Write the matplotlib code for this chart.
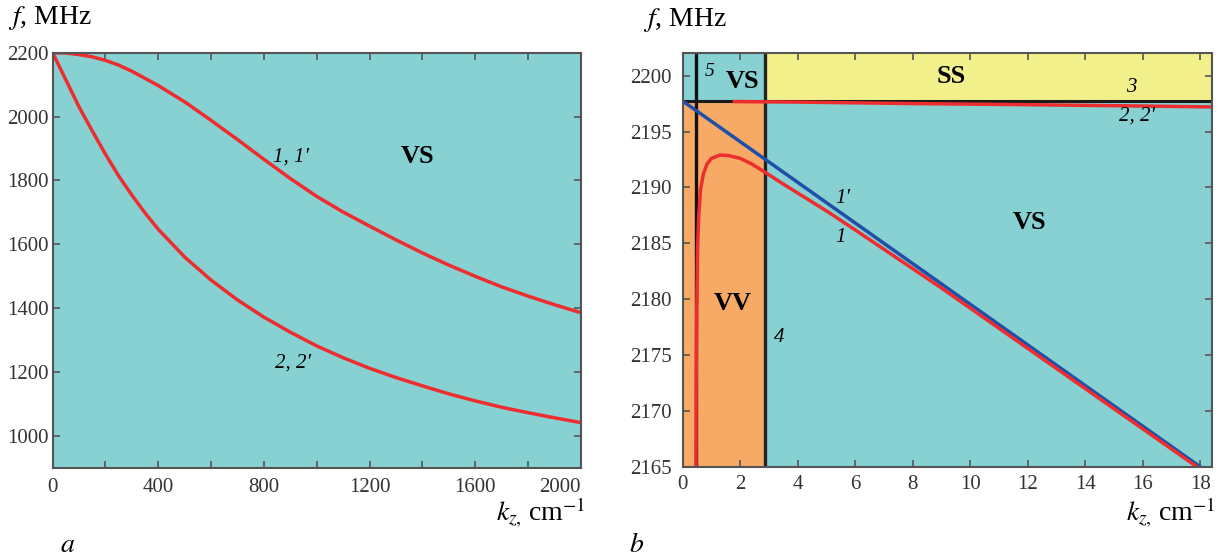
import matplotlib
matplotlib.use('Agg')
import matplotlib.pyplot as plt
from matplotlib.ticker import MultipleLocator

plt.rcParams['font.family'] = ['Liberation Serif', 'DejaVu Serif']
plt.rcParams['mathtext.fontset'] = 'stix'

# ---- panel a data (kz in cm^-1, f in MHz) ----
k_a1 = [0, 50, 100, 150, 200, 250, 300, 400, 500, 600, 700, 800, 900, 1000,
        1100, 1200, 1300, 1400, 1500, 1600, 1700, 1800, 1900, 2000]
f_a1 = [2200, 2199, 2194, 2187, 2176, 2161, 2142, 2097, 2046, 1988, 1928, 1866,
        1806, 1750, 1701, 1657, 1614, 1573, 1535, 1500, 1467, 1438, 1411, 1386]

k_a2 = [0, 25, 50, 100, 150, 200, 250, 300, 350, 400, 500, 600, 700, 800, 900,
        1000, 1100, 1200, 1300, 1400, 1500, 1600, 1700, 1800, 1900, 2000]
f_a2 = [2200, 2157, 2115, 2030, 1955, 1882, 1814, 1754, 1698, 1647, 1560, 1488,
        1426, 1372, 1325, 1282, 1245, 1212, 1183, 1157, 1132, 1110, 1090, 1073,
        1057, 1042]

xticks_a = [0, 400, 800, 1200, 1600, 2000]
yticks_a = [1000, 1200, 1400, 1600, 1800, 2000, 2200]

# ---- panel b data ----
k_b1 = [0.46, 0.47, 0.49, 0.52, 0.56, 0.62, 0.72, 0.85, 1.0, 1.3, 1.6, 2.0,
        2.4, 2.9, 3.5, 4.0, 5.0, 6.0, 7.5, 9.0, 11.0, 13.0, 15.0, 17.0, 18.0]
f_b1 = [2162, 2172, 2179, 2184.5, 2187.5, 2189.8, 2191.2, 2192.1, 2192.6,
        2192.9, 2192.85, 2192.6, 2192.1, 2191.3, 2190.3, 2189.5, 2187.9,
        2186.2, 2183.6, 2181.0, 2177.4, 2173.8, 2170.2, 2166.6, 2164.8]

k_b1p = [0, 18]            # curve 1' (blue)
f_b1p = [2197.73, 2165]

k_b2 = [1.8, 4, 8, 12, 16, 18.4]
f_b2 = [2197.68, 2197.63, 2197.5, 2197.4, 2197.28, 2197.2]

k_line5 = 0.45
k_line4 = 2.87
f_line3 = 2197.73

teal = '#87D1D3'
orange = '#F7A966'
yellow = '#F2F08A'
red = '#EE2D2E'
blue = '#1F4FA8'
spine_c = '#555555'

fig = plt.figure(figsize=(12.19, 5.6), dpi=100)
ax1 = fig.add_axes([0.0432, 0.1643, 0.4334, 0.7416])
ax2 = fig.add_axes([0.5600, 0.1661, 0.4342, 0.7388])

for ax in (ax1, ax2):
    for s in ax.spines.values():
        s.set_color(spine_c)
        s.set_linewidth(1.5)
    ax.tick_params(which='both', direction='in', top=True, right=True,
                   colors=spine_c, labelcolor='#333333', labelsize=15, width=1.2)
    ax.tick_params(which='both', length=5)
    ax.set_facecolor(teal)

# ---- panel a ----
ax1.plot(k_a1, f_a1, color=red, lw=2.5)
ax1.plot(k_a2, f_a2, color=red, lw=2.5)
ax1.set_xlim(0, 2000)
ax1.set_ylim(900, 2200)
ax1.set_xticks(xticks_a, labels=[str(v) for v in xticks_a])
ax1.xaxis.set_minor_locator(MultipleLocator(200))
ax1.set_yticks(yticks_a)
ax1.tick_params(axis='x', pad=7)
ax1.tick_params(axis='y', pad=3)
ax1.xaxis.get_major_ticks()[-1].label1.set_horizontalalignment('right')

lab = dict(fontsize=15, fontstyle='italic', ha='center', va='center')
reg = dict(fontsize=19, fontweight='bold', ha='center', va='center')

ax1.text(1382, 1874, 'VS', **reg)
ax1.text(902, 1874, '1, 1\u2032', **lab)
ax1.text(910, 1227, '2, 2\u2032', **lab)

# ---- panel b ----
ax2.set_xlim(0, 18.4)
ax2.set_ylim(2165, 2202)
ax2.axvspan(0, k_line4, ymin=0, ymax=(f_line3 - 2165) / (2202 - 2165), color=orange, lw=0)
ax2.axvspan(k_line4, 18.4, ymin=(f_line3 - 2165) / (2202 - 2165), ymax=1, color=yellow, lw=0)
ax2.axhline(f_line3, color='#1a1a1a', lw=2.2)
ax2.axvline(k_line5, color='#111111', lw=2.4)
ax2.axvline(k_line4, color='#222222', lw=2.4)
ax2.plot(k_b1p, f_b1p, color=blue, lw=2.5)
ax2.plot(k_b1, f_b1, color=red, lw=2.5)
ax2.plot(k_b2, f_b2, color=red, lw=2.5)
ax2.xaxis.set_major_locator(MultipleLocator(2))
ax2.yaxis.set_major_locator(MultipleLocator(5))
ax2.tick_params(axis='x', pad=6)
ax2.tick_params(axis='y', pad=8)

ax2.text(0.92, 2200.4, '5', fontsize=14, fontstyle='italic', ha='center', va='center')
ax2.text(2.08, 2199.5, 'VS', **reg)
ax2.text(9.35, 2199.9, 'SS', **reg)
ax2.text(15.6, 2198.9, '3', **lab)
ax2.text(15.8, 2196.4, '2, 2\u2032', **lab)
ax2.text(5.58, 2189.0, '1\u2032', **lab)
ax2.text(5.5, 2185.5, '1', **lab)
ax2.text(1.74, 2179.6, 'VV', **reg)
ax2.text(3.35, 2176.6, '4', **lab)
ax2.text(12.07, 2186.9, 'VS', **reg)

# ---- axis captions ----
cap = dict(fontsize=20, va='center')
kz_txt = '$k_{z,}\\,$cm$^{\\mathrm{-1}}$'
fig.text(8 / 1219, 1 - 18 / 560, '$f$, MHz', ha='left', **cap)
fig.text(643 / 1219, 1 - 20 / 560, '$f$, MHz', ha='left', **cap)
fig.text(585 / 1219, 1 - 512 / 560, kz_txt, ha='right', **cap)
fig.text(1215 / 1219, 1 - 512 / 560, kz_txt, ha='right', **cap)
fig.text(68 / 1219, 1 - 545 / 560, '$a$', ha='center', **cap)
fig.text(637 / 1219, 1 - 545 / 560, '$b$', ha='center', **cap)

fig.savefig('out.png', dpi=100)
